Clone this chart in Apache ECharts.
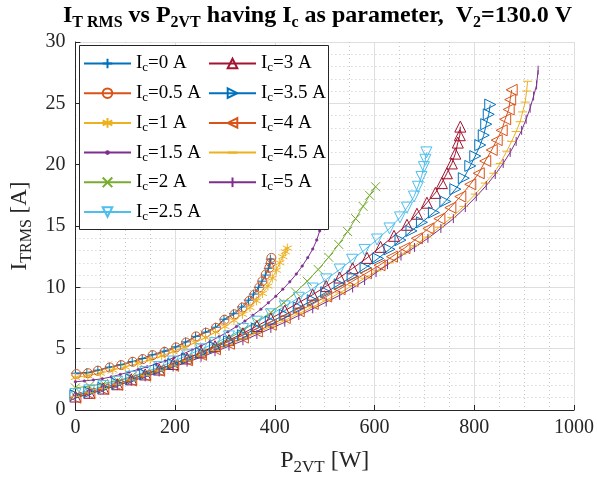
<!DOCTYPE html>
<html><head><meta charset="utf-8">
<script src="https://cdn.jsdelivr.net/npm/echarts@6/dist/echarts.min.js"></script>
<style>html,body{margin:0;padding:0;background:#fff}#c{width:597px;height:481px}</style>
</head><body><div id="c"></div>
<script>
// ---- data: [P2VT (W), I_TRMS (A)] per Ic ----
const ic0 = [[0,3.0],[23,3.05],[45,3.25],[68,3.5],[91,3.7],[114,3.95],[134,4.2],[154,4.5],[178,4.8],[201,5.15],[221,5.55],[241,6.0],[261,6.35],[281,6.75],[298,7.4],[317,7.85],[333,8.4],[347,8.95],[357,9.45],[367,10.0],[374,10.5],[381,11.0],[387,11.55],[390,11.95],[391,12.3]];
const ic05 = [[2,2.93],[25,3.0],[45,3.2],[69,3.47],[92,3.66],[115,3.93],[135,4.15],[155,4.47],[179,4.74],[202,5.1],[222,5.5],[242,6.0],[262,6.3],[282,6.7],[299,7.35],[319,7.8],[335,8.35],[349,8.9],[359,9.4],[369,10.0],[375,10.5],[382,11.05],[389,11.6],[392,12.0],[393,12.4]];
const ic1 = [[0,2.65],[25,2.8],[50,3.0],[75,3.25],[100,3.5],[125,3.8],[150,4.1],[173,4.4],[196,4.75],[218,5.1],[240,5.5],[261,5.9],[281,6.35],[300,6.8],[318,7.3],[335,7.8],[350,8.35],[363,8.9],[375,9.5],[386,10.1],[395,10.75],[403,11.4],[410,12.0],[416,12.5],[421,12.9],[425,13.2]];
const ic15 = [[0,2.3],[18,2.37],[36,2.45],[54,2.55],[72,2.7],[90,2.9],[108,3.1],[126,3.3],[144,3.52],[162,3.75],[180,4.0],[198,4.27],[216,4.57],[234,4.9],[252,5.23],[270,5.58],[288,5.97],[306,6.38],[323,6.8],[340,7.25],[356,7.72],[372,8.22],[387,8.74],[402,9.28],[416,9.85],[430,10.45],[443,11.08],[455,11.74],[466,12.42],[476,13.12],[484,13.85],[490,14.6],[495,15.4],[499,16.25],[501,17.1],[502,17.9]];
const ic2 = [[0,1.8],[28,1.95],[56,2.15],[84,2.4],[112,2.7],[140,3.0],[168,3.35],[196,3.75],[224,4.2],[252,4.7],[280,5.25],[308,5.85],[336,6.5],[364,7.2],[392,7.95],[418,8.75],[442,9.6],[465,10.5],[487,11.45],[508,12.45],[528,13.5],[546,14.55],[562,15.6],[577,16.6],[590,17.5],[602,18.2]];
const ic25 = [[0,1.3],[28,1.6],[56,1.95],[84,2.3],[112,2.7],[140,3.1],[168,3.5],[196,3.95],[224,4.45],[252,4.95],[280,5.45],[308,6.0],[336,6.6],[364,7.2],[392,7.8],[420,8.45],[448,9.15],[476,9.9],[503,10.65],[530,11.45],[555,12.25],[580,13.05],[605,13.9],[630,14.8],[651,15.7],[665,16.5],[679,17.4],[687,18.2],[694,19.0],[699,19.8],[702,20.4],[704,21.0]];
const ic3 = [[0,1.1],[28,1.4],[56,1.75],[84,2.1],[112,2.5],[140,2.9],[168,3.3],[196,3.75],[224,4.2],[252,4.7],[280,5.2],[308,5.7],[336,6.25],[364,6.85],[392,7.45],[420,8.1],[448,8.75],[476,9.4],[503,10.1],[530,10.8],[556,11.55],[585,12.4],[612,13.3],[639,14.2],[665,15.1],[685,16.0],[705,16.9],[722,17.7],[735,18.5],[745,19.3],[755,20.1],[762,20.9],[767,21.8],[771,22.4],[772,23.1]];
const ic35 = [[0,1.2],[28,1.45],[56,1.8],[84,2.15],[112,2.5],[140,2.9],[168,3.3],[196,3.75],[224,4.2],[252,4.65],[280,5.1],[308,5.6],[336,6.1],[364,6.65],[392,7.2],[420,7.75],[448,8.35],[476,8.95],[503,9.6],[530,10.25],[556,10.9],[582,11.6],[607,12.35],[630,13.1],[652,13.85],[674,14.6],[695,15.3],[719,16.1],[742,17.0],[762,18.0],[779,18.9],[792,19.9],[802,20.7],[812,21.6],[819,22.4],[824,23.3],[829,24.1],[832,24.9]];
const ic4 = [[0,1.0],[28,1.35],[56,1.7],[84,2.05],[112,2.4],[140,2.8],[168,3.2],[196,3.6],[224,4.05],[252,4.5],[280,4.95],[308,5.4],[336,5.9],[364,6.4],[392,6.95],[420,7.5],[448,8.05],[476,8.65],[503,9.25],[530,9.85],[556,10.5],[583,11.15],[610,11.8],[635,12.5],[660,13.2],[685,14.0],[708,14.8],[730,15.6],[752,16.5],[772,17.4],[792,18.4],[809,19.3],[822,20.3],[835,21.2],[845,22.0],[855,22.8],[862,23.7],[869,24.5],[872,25.3],[875,26.1]];
const ic45 = [[0,1.1],[28,1.4],[56,1.75],[84,2.1],[112,2.45],[140,2.8],[168,3.2],[196,3.6],[224,4.0],[252,4.4],[280,4.85],[308,5.3],[336,5.8],[364,6.3],[392,6.8],[420,7.3],[448,7.85],[476,8.4],[503,8.95],[530,9.55],[556,10.15],[580,10.75],[605,11.35],[630,12.0],[655,12.7],[680,13.4],[705,14.1],[730,14.9],[755,15.7],[779,16.6],[802,17.6],[822,18.5],[839,19.3],[852,20.1],[865,21.1],[875,21.9],[884,22.7],[892,23.5],[897,24.3],[902,25.1],[905,26.0],[907,26.8]];
const ic5 = [[0,1.0],[28,1.3],[56,1.65],[84,2.0],[112,2.35],[140,2.7],[168,3.1],[196,3.5],[224,3.9],[252,4.3],[280,4.75],[308,5.2],[336,5.65],[364,6.15],[392,6.65],[420,7.15],[448,7.7],[476,8.25],[503,8.8],[530,9.35],[556,9.95],[580,10.55],[603,11.2],[626,11.85],[653,12.55],[680,13.25],[707,14.0],[733,14.8],[758,15.6],[782,16.5],[804,17.4],[824,18.3],[842,19.2],[858,20.1],[872,21.0],[884,21.9],[895,22.8],[904,23.7],[912,24.6],[919,25.6],[925,26.5],[928,27.7]];

const icLabels = ['0','0.5','1','1.5','2','2.5','3','3.5','4','4.5','5'];
const xTicks = [0,200,400,600,800,1000];
const yTicks = [0,5,10,15,20,25,30];

const FONT = 'Liberation Serif';
const AX = '#262626';
const C = ['#0072BD','#D95319','#EDB120','#7E2F8E','#77AC30','#4DBEEE','#A2142F','#0072BD','#D95319','#EDB120','#7E2F8E'];
const SYM = {
  plus: 'path://M5,0L5,10M0,5L10,5',
  circle: 'circle',
  star: 'path://M5,0L5,10M0.7,2.5L9.3,7.5M0.7,7.5L9.3,2.5',
  dot: 'path://M0,0M10,10M3.6,5A1.4,1.4,0,1,1,6.4,5A1.4,1.4,0,1,1,3.6,5Z',
  cross: 'path://M1,1L9,9M9,1L1,9',
  down: 'path://M0,1L10,1L5,9.7Z',
  up: 'path://M5,0.3L10,9L0,9Z',
  right: 'path://M1,0L9.7,5L1,10Z',
  left: 'path://M9,0L0.3,5L9,10Z',
  hbar: 'path://M0,0M10,10M0,5L10,5',
  vbar: 'path://M0,0M10,10M5,0L5,10'
};
const allData = [ic0, ic05, ic1, ic15, ic2, ic25, ic3, ic35, ic4, ic45, ic5];
const syms = ['plus','circle','star','dot','cross','down','up','right','left','hbar','vbar'];
const sizes = [9,9,9,9,9,11,11,11,11,9,9];

const names = icLabels.map(v => 'Ic=' + v + ' A');
const series = allData.map((d, i) => {
  const filled = syms[i] === 'dot';
  return {
    type: 'line', name: names[i], data: d,
    symbol: SYM[syms[i]], symbolSize: sizes[i], showSymbol: true,
    lineStyle: { color: C[i], width: 1 },
    itemStyle: filled ? { color: C[i], borderColor: C[i], borderWidth: 0.5 }
                      : { color: 'transparent', borderColor: C[i], borderWidth: 1 },
    emphasis: { disabled: true }, animation: false, z: 2
  };
});

const legendText = {
  fontFamily: FONT, fontSize: 19, color: '#000',
  rich: {
    a: { fontFamily: FONT, fontSize: 19, lineHeight: 22, verticalAlign: 'middle', color: '#000' },
    s: { fontFamily: FONT, fontSize: 13, lineHeight: 2, verticalAlign: 'bottom', color: '#000' }
  }
};
const legendFmt = n => '{a|I}{s|c}{a|' + n.slice(2) + '}';
const legendBase = {
  orient: 'vertical', itemWidth: 47, itemHeight: 12, padding: 0,
  textStyle: legendText, formatter: legendFmt, selectedMode: false, z: 10
};

const chart = echarts.init(document.getElementById('c'), null, { renderer: 'canvas' });
chart.setOption({
  animation: false,
  backgroundColor: '#fff',
  title: {
    left: 63, top: 1, padding: 0,
    text: '{b|I}{s|T RMS}{b| vs P}{s|2VT}{b| having I}{s|c}{b| as parameter,  V}{s|2}{b|=130.0 V}',
    textStyle: {
      rich: {
        b: { fontFamily: FONT, fontWeight: 'bold', fontSize: 24, lineHeight: 30, verticalAlign: 'middle', color: '#000' },
        s: { fontFamily: FONT, fontWeight: 'bold', fontSize: 16, lineHeight: 2, verticalAlign: 'bottom', color: '#000' }
      }
    }
  },
  grid: { left: 74, right: 23, top: 42, bottom: 70, containLabel: false },
  legend: [
    Object.assign({}, legendBase, { left: 83, top: 54, itemGap: 9.2, data: names.slice(0, 6) }),
    Object.assign({}, legendBase, { left: 208, top: 54, itemGap: 9.2, data: names.slice(6) })
  ],
  graphic: [{
    type: 'rect', shape: { x: 79.5, y: 45.5, width: 249, height: 184 },
    style: { fill: '#fff', stroke: '#262626', lineWidth: 1 }, z: 5, silent: true
  }],
  xAxis: {
    type: 'value', min: xTicks[0], max: xTicks[xTicks.length - 1], interval: xTicks[1] - xTicks[0],
    name: '{m|P}{s|2VT}{m| [W]}', nameLocation: 'middle', nameGap: 36,
    nameTextStyle: { rich: {
      m: { fontFamily: FONT, fontSize: 24, lineHeight: 30, verticalAlign: 'middle', color: AX },
      s: { fontFamily: FONT, fontSize: 17, lineHeight: 4, verticalAlign: 'bottom', color: AX }
    } },
    axisLine: { show: true, onZero: false, lineStyle: { color: AX, width: 1 } },
    axisTick: { show: true, inside: true, length: 5, lineStyle: { color: AX } },
    axisLabel: { fontFamily: FONT, fontSize: 20, color: AX, margin: 8, formatter: v => String(v) },
    splitLine: { show: true, lineStyle: { color: '#dedede', width: 1 } },
    minorTick: { show: false, splitNumber: 4 },
    minorSplitLine: { show: true, lineStyle: { color: '#c8c8c8', width: 1, type: [1, 3] } }
  },
  yAxis: {
    type: 'value', min: yTicks[0], max: yTicks[yTicks.length - 1], interval: yTicks[1] - yTicks[0],
    name: '{m|I}{s|TRMS}{m| [A]}', nameLocation: 'middle', nameGap: 37, nameRotate: 90,
    nameTextStyle: { rich: {
      m: { fontFamily: FONT, fontSize: 23, lineHeight: 30, verticalAlign: 'middle', color: AX },
      s: { fontFamily: FONT, fontSize: 16, lineHeight: 4, verticalAlign: 'bottom', color: AX }
    } },
    axisLine: { show: true, onZero: false, lineStyle: { color: AX, width: 1 } },
    axisTick: { show: true, inside: true, length: 5, lineStyle: { color: AX } },
    axisLabel: { fontFamily: FONT, fontSize: 20, color: AX, margin: 10, formatter: v => String(v) },
    splitLine: { show: true, lineStyle: { color: '#dedede', width: 1 } },
    minorTick: { show: false, splitNumber: 5 },
    minorSplitLine: { show: true, lineStyle: { color: '#c8c8c8', width: 1, type: [1, 3] } }
  },
  series: series
});
</script></body></html>
